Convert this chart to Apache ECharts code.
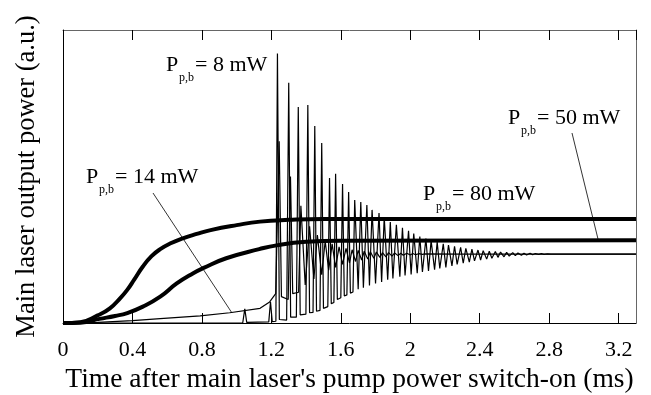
<!DOCTYPE html>
<html><head><meta charset="utf-8">
<script src="https://cdn.jsdelivr.net/npm/echarts@6/dist/echarts.min.js"></script>
<style>html,body{margin:0;padding:0;background:#fff}#c{width:651px;height:395px}</style>
</head><body><div id="c"></div>
<script>
// x tick labels (ms)
const xTickLabels = ['0','0.4','0.8','1.2','1.6','2','2.4','2.8','3.2'];

// P_p,b = 80 mW (thick, smooth rise)
const p80 = [[0,0],[0.1,0.003],[0.2,0.026],[0.27,0.05],[0.33,0.085],[0.37,0.113],[0.41,0.148],[0.46,0.193],[0.51,0.228],[0.56,0.252],[0.62,0.272],[0.69,0.289],[0.77,0.304],[0.85,0.317],[1.0,0.334],[1.135,0.346],[1.3,0.352],[1.5,0.355],[3.3,0.355]];

// P_p,b = 50 mW (thick, slower rise)
const p50 = [[0,0],[0.1,0.001],[0.21,0.014],[0.3,0.024],[0.37,0.034],[0.46,0.056],[0.56,0.09],[0.655,0.135],[0.75,0.17],[0.81,0.188],[0.94,0.221],[1.13,0.252],[1.23,0.265],[1.4,0.277],[1.6,0.281],[3.3,0.282]];

// P_p,b = 14 mW (thin): slow rise, then oscillation
const p14Rise = [[0,0],[0.2,0.002],[0.4,0.008],[0.56,0.015],[0.79,0.024],[0.96,0.035],[1.135,0.05],[1.19,0.072],[1.225,0.1]];
const p14Peaks = [[1.245,0.62],[1.31,0.5],[1.37,0.4],[1.42,0.33],[1.465,0.3],[1.51,0.28],[1.55,0.27],[1.59,0.26],[1.63,0.255],[1.665,0.25],[1.7,0.248],[1.735,0.245],[1.77,0.243],[1.805,0.242],[1.84,0.24],[1.875,0.24],[1.91,0.239],[1.945,0.238],[1.98,0.238],[2.015,0.237],[2.05,0.237],[2.085,0.236]];
const p14Troughs = [[1.258,0.09],[1.297,0.08],[1.323,0.1],[1.357,0.105],[1.395,0.13],[1.445,0.15],[1.49,0.165],[1.53,0.18],[1.57,0.19],[1.61,0.2],[1.65,0.205],[1.685,0.21],[1.72,0.215],[1.755,0.218],[1.79,0.221],[1.825,0.224],[1.86,0.226],[1.895,0.228],[1.93,0.23],[1.96,0.231],[2.0,0.232],[2.03,0.233],[2.07,0.234],[2.3,0.235],[3.3,0.235]];

// P_p,b = 8 mW (thin): delayed onset, strong relaxation oscillations
const p8Pre = [[0,0],[1.035,0],[1.047,0.048],[1.058,0.002],[1.185,0.004],[1.195,0.072],[1.205,0.005],[1.226,0.006]];
const p8Peaks = [[1.235,0.92],[1.3,0.82],[1.355,0.737],[1.41,0.744],[1.45,0.672],[1.49,0.614],[1.535,0.495],[1.57,0.509],[1.61,0.474],[1.645,0.447],[1.68,0.42],[1.715,0.413],[1.75,0.403],[1.78,0.386],[1.82,0.375],[1.85,0.362],[1.885,0.345],[1.92,0.335],[1.955,0.325],[1.99,0.315],[2.02,0.305],[2.055,0.295],[2.09,0.288],[2.12,0.281],[2.155,0.276],[2.19,0.27],[2.22,0.266],[2.255,0.262],[2.29,0.258],[2.32,0.255],[2.355,0.252],[2.39,0.249],[2.42,0.247],[2.455,0.245],[2.49,0.244],[2.52,0.242],[2.555,0.241],[2.59,0.24],[2.62,0.239],[2.655,0.238],[2.69,0.238],[2.72,0.237],[2.755,0.237],[2.79,0.236]];
const p8Troughs = [[1.246,0.012],[1.288,0.01],[1.311,0.02],[1.344,0.02],[1.366,0.028],[1.399,0.03],[1.42,0.035],[1.44,0.036],[1.46,0.04],[1.48,0.043],[1.5,0.05],[1.525,0.056],[1.545,0.066],[1.56,0.07],[1.58,0.08],[1.6,0.086],[1.62,0.092],[1.635,0.096],[1.655,0.102],[1.67,0.106],[1.7,0.115],[1.73,0.12],[1.765,0.128],[1.8,0.135],[1.835,0.14],[1.87,0.148],[1.9,0.152],[1.94,0.158],[1.97,0.162],[2.005,0.166],[2.04,0.17],[2.07,0.174],[2.105,0.178],[2.14,0.182],[2.17,0.186],[2.205,0.19],[2.24,0.195],[2.27,0.2],[2.305,0.204],[2.34,0.208],[2.37,0.212],[2.405,0.215],[2.44,0.218],[2.47,0.221],[2.505,0.224],[2.54,0.226],[2.57,0.228],[2.605,0.23],[2.64,0.231],[2.67,0.232],[2.705,0.233],[2.74,0.234],[2.77,0.234],[2.81,0.235],[3.3,0.235]];

// annotation texts
const labelValues = ['8 mW','14 mW','80 mW','50 mW'];

const merge = (...arrs) => [].concat(...arrs).sort((a,b)=>a[0]-b[0]);
const d14 = merge(p14Rise, p14Peaks, p14Troughs);
const d8 = merge(p8Pre, p8Peaks, p8Troughs);

const FONT = "'Liberation Serif','Times New Roman',serif";
const chart = echarts.init(document.getElementById('c'), null, {renderer:'canvas'});

function annot(x, y, txt){
  return {type:'group', children:[
    {type:'text', x:x, y:y, style:{text:'P', font:'22px '+FONT, fill:'#000', verticalAlign:'middle'}},
    {type:'text', x:x+13, y:y+13, style:{text:'p,b', font:'12px '+FONT, fill:'#000', verticalAlign:'middle'}},
    {type:'text', x:x+29, y:y, style:{text:'= '+txt, font:'22px '+FONT, fill:'#000', verticalAlign:'middle'}}
  ]};
}

const thin = {type:'line', showSymbol:false, symbol:'none', smooth:false, clip:false, lineStyle:{color:'#000', width:1.2}, z:2};
const thick = {type:'line', showSymbol:false, symbol:'none', smooth:0.5, clip:false, lineStyle:{color:'#000', width:4}, z:3};

chart.setOption({
  animation:false,
  backgroundColor:'#fff',
  grid:{left:63, right:15, top:30, bottom:72, containLabel:false, outerBoundsMode:'none'},
  xAxis:[{
    type:'value', min:0, max:3.3, interval:0.4, position:'bottom',
    name:"Time after main laser's pump power switch-on (ms)", nameLocation:'middle', nameGap:40,
    nameTextStyle:{fontFamily:FONT, fontSize:27.5, color:'#000'},
    axisLine:{show:true, onZero:false, lineStyle:{color:'#000', width:1}},
    axisTick:{show:true, inside:true, length:10, lineStyle:{color:'#000'}},
    axisLabel:{show:true, margin:16, fontFamily:FONT, fontSize:22, color:'#000', showMaxLabel:false,
      formatter:v=>{const i=Math.round(v/0.4); return Math.abs(v-i*0.4)<1e-6 ? (xTickLabels[i]||'') : '';}},
    splitLine:{show:false}
  },{
    type:'value', min:0, max:3.3, interval:0.4, position:'top',
    axisLine:{show:true, onZero:false, lineStyle:{color:'#666', width:1}},
    axisTick:{show:true, inside:true, length:10, lineStyle:{color:'#000'}},
    axisLabel:{show:false}, splitLine:{show:false}
  }],
  yAxis:[{
    type:'value', min:0, max:1, position:'left',
    name:'Main laser output power (a.u.)', nameLocation:'middle', nameGap:22, nameRotate:90,
    nameTextStyle:{fontFamily:FONT, fontSize:26.5, color:'#000'},
    axisLine:{show:true, onZero:false, lineStyle:{color:'#000', width:1}},
    axisTick:{show:false}, axisLabel:{show:false}, splitLine:{show:false}
  },{
    type:'value', min:0, max:1, position:'right',
    axisLine:{show:true, onZero:false, lineStyle:{color:'#666', width:1}},
    axisTick:{show:false}, axisLabel:{show:false}, splitLine:{show:false}
  }],
  series:[
    Object.assign({}, thin, {name:'8 mW', data:d8}),
    Object.assign({}, thin, {name:'14 mW', data:d14}),
    Object.assign({}, thick, {name:'50 mW', data:p50}),
    Object.assign({}, thick, {name:'80 mW', data:p80})
  ],
  graphic:[
    annot(166, 65, labelValues[0]),
    annot(86, 177, labelValues[1]),
    annot(423, 194, labelValues[2]),
    annot(508, 118, labelValues[3]),
    {type:'line', shape:{x1:153,y1:193,x2:232,y2:313}, style:{stroke:'#000', lineWidth:0.8}},
    {type:'line', shape:{x1:572,y1:133,x2:598,y2:239}, style:{stroke:'#000', lineWidth:0.8}}
  ]
});
</script></body></html>
